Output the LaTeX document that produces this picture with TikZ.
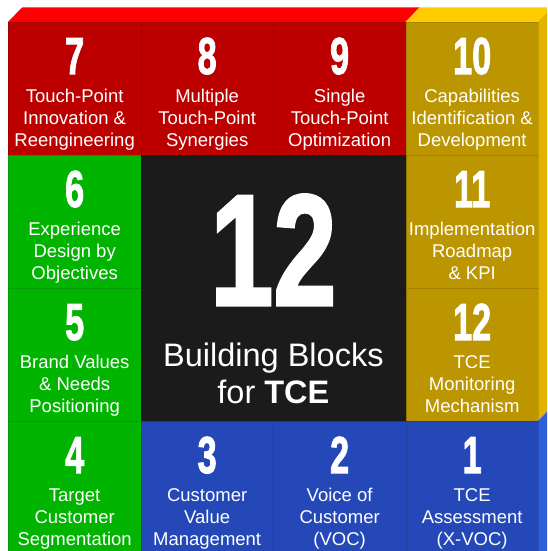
\documentclass[tikz,border=0pt]{standalone}
\usepackage{fontspec}
\usepackage{graphicx}
\setmainfont{Liberation Sans}
\newfontfamily\numfont{Liberation Sans}[BoldFeatures={FakeBold=2}]
\newcommand\slimnum[1]{\scalebox{0.66}[1]{#1}}

\definecolor{redfront}{RGB}{188,0,0}
\definecolor{redtop}{RGB}{255,0,0}
\definecolor{goldfront}{RGB}{188,150,0}
\definecolor{goldtop}{RGB}{255,204,0}
\definecolor{goldside}{RGB}{226,178,0}
\definecolor{greenfront}{RGB}{0,180,0}
\definecolor{bluefront}{RGB}{36,72,184}
\definecolor{blueside}{RGB}{46,94,218}
\definecolor{corefill}{RGB}{27,27,27}

\tikzset{
  cell/.style={rectangle, draw=black, draw opacity=0.12, line width=0.8pt,
    minimum width=132.5pt, minimum height=133pt, inner sep=0pt, anchor=north west},
  num/.style={text=white, font=\numfont\bfseries\fontsize{52}{52}\selectfont,
    anchor=base, inner sep=0pt},
  % anchor=base of a multi-line node sits on its last line
  lbl/.style={text=white, font=\fontsize{18.5}{22}\selectfont, align=center,
    anchor=base, inner sep=0pt},
}

\begin{document}
\begin{tikzpicture}[x=1pt,y=-1pt]
\useasboundingbox (0,0) rectangle (547,551);
\fill[white] (0,0) rectangle (547,551);
\begin{scope}
\clip (0,0) rectangle (547,551);

% top and side faces of the block
\fill[redtop] (8,22) -- (22,7.5) -- (419.5,7.5) -- (405.5,22) -- cycle;
\fill[goldtop] (405.5,22) -- (419.5,7.5) -- (560,7.5) -- (538,22) -- cycle;
\fill[goldside] (538,22) -- (552,7.5) -- (560,7.5) -- (560,406.5) -- (552,406.5) -- (538,421) -- cycle;
\fill[blueside] (538,421) -- (552,406.5) -- (560,406.5) -- (560,560) -- (538,560) -- cycle;

% front faces: 4 x 4 grid, centre spans 2 x 2
\node[cell, fill=redfront]   (c7)  at (8,22) {};
\node[cell, fill=redfront]   (c8)  at (140.5,22) {};
\node[cell, fill=redfront]   (c9)  at (273,22) {};
\node[cell, fill=goldfront]  (c10) at (405.5,22) {};
\node[cell, fill=greenfront] (c6)  at (8,155) {};
\node[cell, fill=goldfront]  (c11) at (405.5,155) {};
\node[cell, fill=greenfront] (c5)  at (8,288) {};
\node[cell, fill=goldfront]  (c12) at (405.5,288) {};
\node[cell, fill=greenfront] (c4)  at (8,421) {};
\node[cell, fill=bluefront]  (c3)  at (140.5,421) {};
\node[cell, fill=bluefront]  (c2)  at (273,421) {};
\node[cell, fill=bluefront]  (c1)  at (405.5,421) {};
\node[cell, fill=corefill, minimum width=265pt, minimum height=266pt] (core) at (140.5,155) {};
\end{scope}

% block numbers
\foreach \c in {1,...,12}
  \node[num] (n\c) at ([yshift=-52pt]c\c.north) {\slimnum{\c}};

% block labels
\node[lbl] (t7)  at ([yshift=-124pt]c7.north)  {Touch-Point\\Innovation \&\\Reengineering};
\node[lbl] (t8)  at ([yshift=-124pt]c8.north)  {Multiple\\Touch-Point\\Synergies};
\node[lbl] (t9)  at ([yshift=-124pt]c9.north)  {Single\\Touch-Point\\Optimization};
\node[lbl] (t10) at ([yshift=-124pt]c10.north) {Capabilities\\Identification \&\\Development};
\node[lbl] (t6)  at ([yshift=-124pt]c6.north)  {Experience\\Design by\\Objectives};
\node[lbl] (t11) at ([yshift=-124pt]c11.north) {Implementation\\Roadmap\\\& KPI};
\node[lbl] (t5)  at ([yshift=-124pt]c5.north)  {Brand Values\\\& Needs\\Positioning};
\node[lbl] (t12) at ([yshift=-124pt]c12.north) {TCE\\Monitoring\\Mechanism};
\node[lbl] (t4)  at ([yshift=-124pt]c4.north)  {Target\\Customer\\Segmentation};
\node[lbl] (t3)  at ([yshift=-124pt]c3.north)  {Customer\\Value\\Management};
\node[lbl] (t2)  at ([yshift=-124pt]c2.north)  {Voice of\\Customer\\(VOC)};
\node[lbl] (t1)  at ([yshift=-124pt]c1.north)  {TCE\\Assessment\\(X-VOC)};

% centre title
\node[text=white, font=\numfont\bfseries\fontsize{158}{158}\selectfont, anchor=base, inner sep=0pt]
  (big) at ([yshift=-150pt]core.north) {\scalebox{0.72}[1]{12}};
\node[text=white, font=\fontsize{32.5}{37}\selectfont, align=center, anchor=base, inner sep=0pt]
  (title) at ([yshift=-248pt]core.north) {Building Blocks\\for \textbf{TCE}};
\end{tikzpicture}
\end{document}
